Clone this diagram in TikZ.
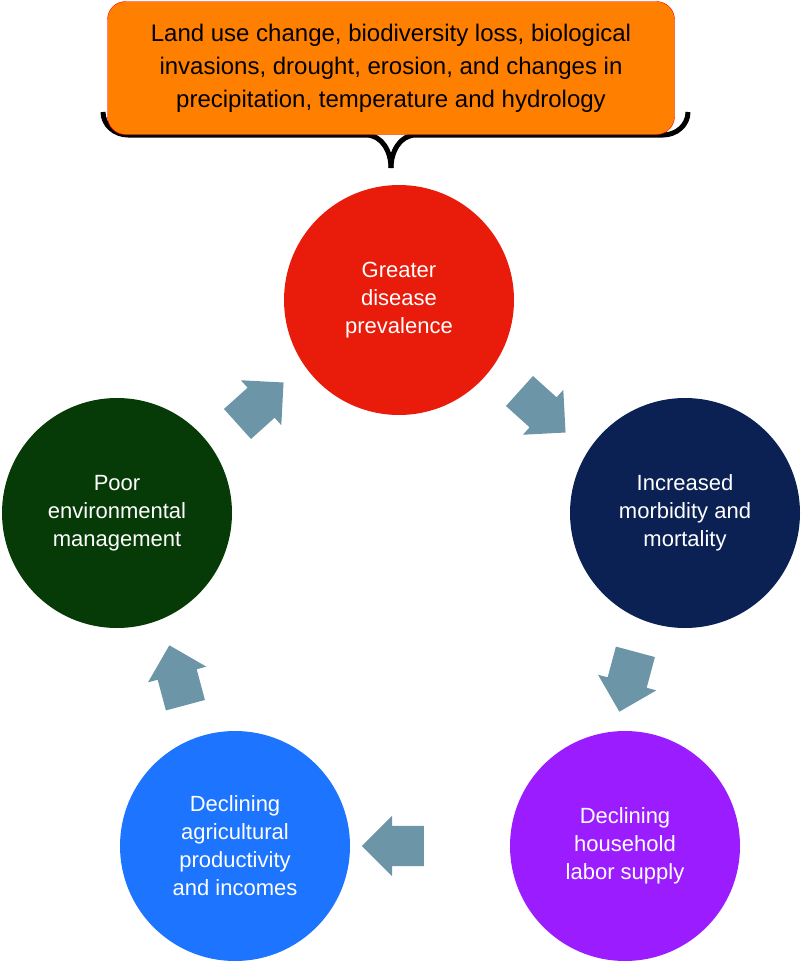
\documentclass[tikz,border=0pt]{standalone}
\usepackage{fontspec}
\setmainfont{Liberation Sans}
\usetikzlibrary{shapes.arrows}
\definecolor{boxorange}{HTML}{FF8000}
\definecolor{diseasered}{HTML}{E91B0B}
\definecolor{morbnavy}{HTML}{0B2154}
\definecolor{laborpurple}{HTML}{9B1CFF}
\definecolor{agriblue}{HTML}{1D74FF}
\definecolor{envgreen}{HTML}{063A06}
\definecolor{arrowgrey}{HTML}{6C95A8}
\tikzset{
  stage/.style={circle, minimum size=230pt, inner sep=0pt, text=white,
    align=center, font=\fontsize{22}{28}\selectfont},
  cyclearrow/.style={single arrow, fill=arrowgrey, minimum height=62pt,
    inner xsep=0pt, inner ysep=20pt, minimum width=60pt,
    single arrow head extend=10pt, single arrow head indent=0pt}
}
\begin{document}
\begin{tikzpicture}[x=1pt,y=1pt]
\useasboundingbox (0,0) rectangle (802,-964);
% brace behind the box
\draw[line width=5pt] (103,-112) to[out=-90,in=180] (128,-135) -- (366,-135)
  to[out=0,in=90] (391,-168);
\draw[line width=5pt] (688,-112) to[out=-90,in=0] (663,-135) -- (416,-135)
  to[out=180,in=90] (391,-168);
\node[draw=red, fill=boxorange, rounded corners=18pt, minimum width=567pt,
  minimum height=133pt, align=center, font=\fontsize{24}{33}\selectfont]
  (drivers) at (391,-68) {Land use change, biodiversity loss, biological\\
  invasions, drought, erosion, and changes in\\
  precipitation, temperature and hydrology};
% cycle
\node[stage, fill=diseasered] (disease) at (399,-300) {Greater\\disease\\prevalence};
\node[stage, fill=morbnavy] (morb) at (685,-513) {Increased\\morbidity and\\mortality};
\node[stage, fill=laborpurple] (labor) at (625,-846) {Declining\\household\\labor supply};
\node[stage, fill=agriblue] (agri) at (235,-846) {Declining\\agricultural\\productivity\\and incomes};
\node[stage, fill=envgreen] (env) at (117,-513) {Poor\\environmental\\management};
% arrows
\node[cyclearrow, rotate=-42] (a1) at (535,-405) {};
\node[cyclearrow, rotate=-105] (a2) at (630,-672) {};
\node[cyclearrow, rotate=180] (a3) at (403,-846) {};
\node[cyclearrow, rotate=105] (a4) at (180,-685) {};
\node[cyclearrow, rotate=42] (a5) at (253,-410) {};
\end{tikzpicture}
\end{document}
